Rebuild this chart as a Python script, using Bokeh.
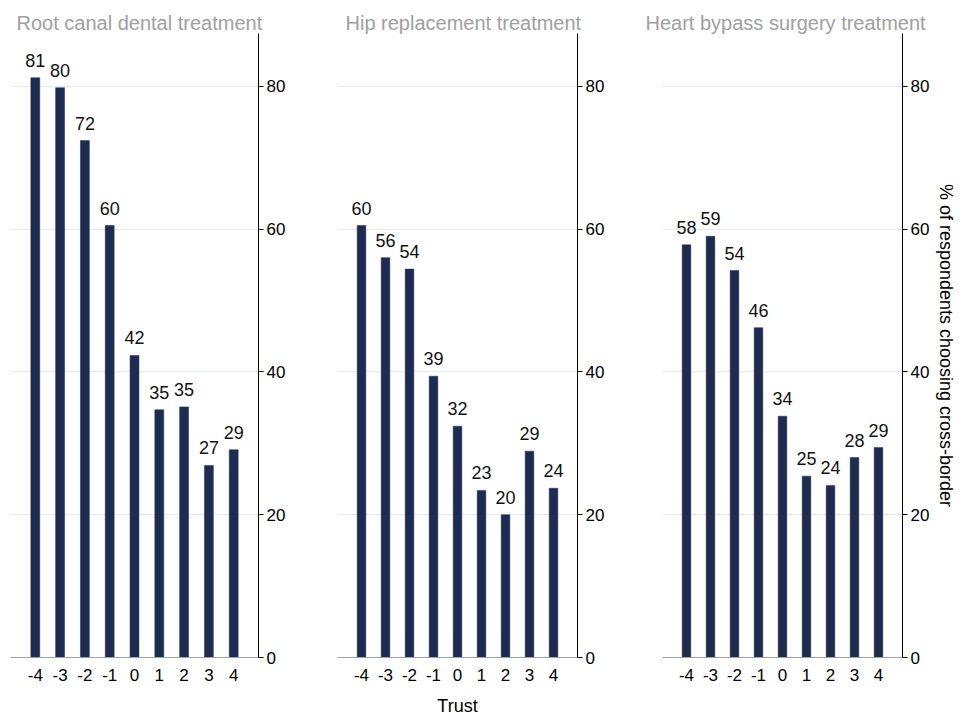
from bokeh.plotting import figure
from bokeh.layouts import row
from bokeh.models import ColumnDataSource, FixedTicker, LabelSet, Range1d
from bokeh.core.properties import value
from bokeh.embed import file_html
from bokeh.resources import INLINE

trust = [-4, -3, -2, -1, 0, 1, 2, 3, 4]
trust_labels = {t: str(t) for t in trust}
titles = ["Root canal dental treatment", "Hip replacement treatment", "Heart bypass surgery treatment"]
root_canal = [81.2, 79.8, 72.4, 60.5, 42.3, 34.7, 35.1, 26.9, 29.1]
hip_replacement = [60.5, 56.0, 54.4, 39.4, 32.4, 23.4, 20.0, 28.9, 23.7]
heart_bypass = [57.8, 59.0, 54.2, 46.2, 33.8, 25.4, 24.1, 28.0, 29.4]
y_ticks = [0, 20, 40, 60, 80]
x_title = "Trust"
y_title = "% of respondents choosing cross-border"

FONT = "Liberation Sans"
BAR = "#1f2c52"


def make(title, vals, fw, bl, br, toff, xlabel=None, ylabel=None):
    p = figure(frame_width=fw, frame_height=624,
               x_range=Range1d(-5, 5), y_range=Range1d(0, 87.4),
               y_axis_location="right", output_backend="svg",
               toolbar_location=None, min_border_left=bl, min_border_right=br,
               min_border_top=33, min_border_bottom=57)
    src = ColumnDataSource(dict(x=trust, top=vals,
                                lab=["%d" % round(v) for v in vals]))
    p.vbar(x="x", top="top", bottom=0, width=0.36, source=src,
           fill_color=BAR, line_color=BAR, line_width=0.5)
    p.add_layout(LabelSet(x="x", y="top", text="lab", source=src,
                          text_align="center", text_baseline="alphabetic",
                          y_offset=11, text_font_size="18px",
                          text_font=value(FONT), text_color="#111111"))
    p.outline_line_color = None
    p.background_fill_color = "white"
    p.border_fill_color = "white"
    p.title.text = title
    p.title.align = "left"
    p.title.offset = toff
    p.title.text_color = "#a0a0a0"
    p.title.text_font = FONT
    p.title.text_font_style = "normal"
    p.title.text_font_size = "20px"
    p.title.standoff = 0
    p.xgrid.grid_line_color = None
    p.ygrid.grid_line_color = "#e4ebf0"
    p.ygrid.ticker = FixedTicker(ticks=y_ticks)
    ya = p.yaxis[0]
    ya.ticker = FixedTicker(ticks=y_ticks)
    ya.axis_line_color = "black"
    ya.major_tick_line_color = "black"
    ya.major_tick_out = 5
    ya.major_tick_in = 0
    ya.minor_tick_line_color = None
    ya.major_label_standoff = 3
    ya.major_label_text_font = FONT
    ya.major_label_text_font_size = "17px"
    ya.major_label_text_color = "black"
    xa = p.xaxis[0]
    xa.ticker = FixedTicker(ticks=trust)
    xa.major_label_overrides = trust_labels
    xa.axis_line_color = "#9ea3a8"
    xa.major_tick_line_color = None
    xa.minor_tick_line_color = None
    xa.major_label_standoff = 5
    xa.major_label_text_font = FONT
    xa.major_label_text_font_size = "17px"
    xa.major_label_text_color = "black"
    if xlabel:
        xa.axis_label = xlabel
        xa.axis_label_standoff = 12
        xa.axis_label_text_font = FONT
        xa.axis_label_text_font_size = "18px"
        xa.axis_label_text_font_style = "normal"
        xa.axis_label_text_color = "black"
    if ylabel:
        ya.axis_label = ylabel
        ya.axis_label_standoff = 4
        ya.axis_label_text_font = FONT
        ya.axis_label_text_font_size = "18px"
        ya.axis_label_text_font_style = "normal"
        ya.axis_label_text_color = "black"
    return p


p1 = make(titles[0], root_canal, 248, 10, 40, 6)
p2 = make(titles[1], hip_replacement, 240, 39, 40, 8, xlabel=x_title)
p3 = make(titles[2], heart_bypass, 240, 45, 50, -17, ylabel=y_title)

layout = row(p1, p2, p3)
open("out.html", "w").write(file_html(layout, INLINE))
